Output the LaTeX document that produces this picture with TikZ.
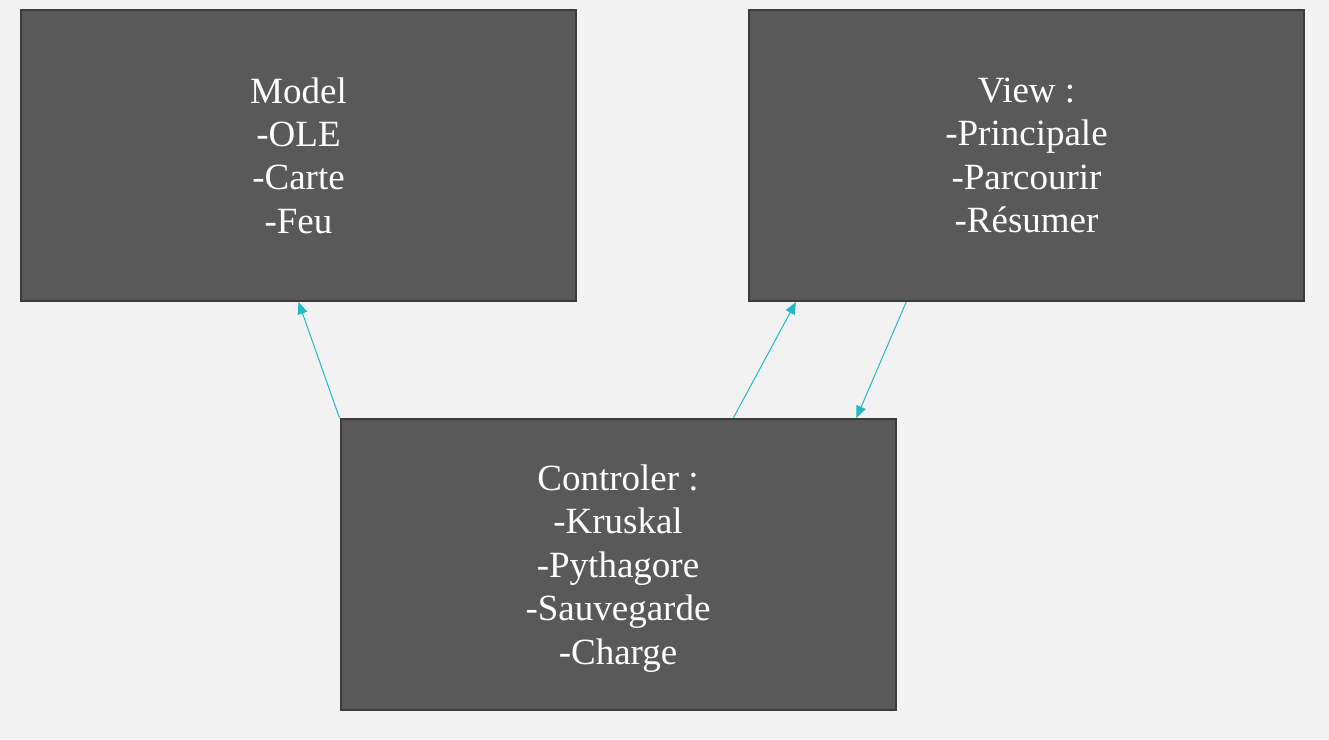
\documentclass[tikz,border=0pt]{standalone}
\usepackage{fontspec}
\setmainfont{Liberation Serif}
\usetikzlibrary{arrows.meta,calc}
\definecolor{bg}{HTML}{F2F2F2}
\definecolor{boxfill}{HTML}{595959}
\definecolor{boxline}{HTML}{3C3C3C}
\definecolor{link}{HTML}{22B8C4}
\tikzset{
  mvcbox/.style={draw=boxline, fill=boxfill, line width=2pt, minimum width=555pt, minimum height=291pt,
    inner sep=0pt},
  mvctext/.style={text=white, align=center, inner sep=0pt,
    font=\fontsize{37}{43.4}\selectfont},
  linkarrow/.style={draw=link, line width=1pt, -{Triangle[length=12pt,width=10pt]}}
}
\begin{document}
\begin{tikzpicture}[x=1pt,y=-1pt]
\fill[bg] (0,0) rectangle (1329,739);
\useasboundingbox (0,0) rectangle (1329,739);
\node[mvcbox, label={[mvctext]center:{Model\\-OLE\\-Carte\\-Feu}}] (model) at (298.5,155.5) {};
\node[mvcbox, label={[mvctext]center:{View :\\-Principale\\-Parcourir\\-Résumer}}] (view) at (1026.5,155.5) {};
\node[mvcbox, label={[mvctext,yshift=-4pt]center:{Controler :\\-Kruskal\\-Pythagore\\-Sauvegarde\\-Charge}}] (ctrl) at (618,564.5) {};
\coordinate (c1) at ($(ctrl.north west)!0.707!(ctrl.north east)$);
\coordinate (v1) at ($(view.south west)!0.086!(view.south east)$);
\coordinate (v2) at ($(view.south west)!0.284!(view.south east)$);
\coordinate (c2) at ($(ctrl.north west)!0.928!(ctrl.north east)$);
\draw[linkarrow] (ctrl.north west) -- (model.south);
\draw[linkarrow] (c1) -- (v1);
\draw[linkarrow] (v2) -- (c2);
\end{tikzpicture}
\end{document}
